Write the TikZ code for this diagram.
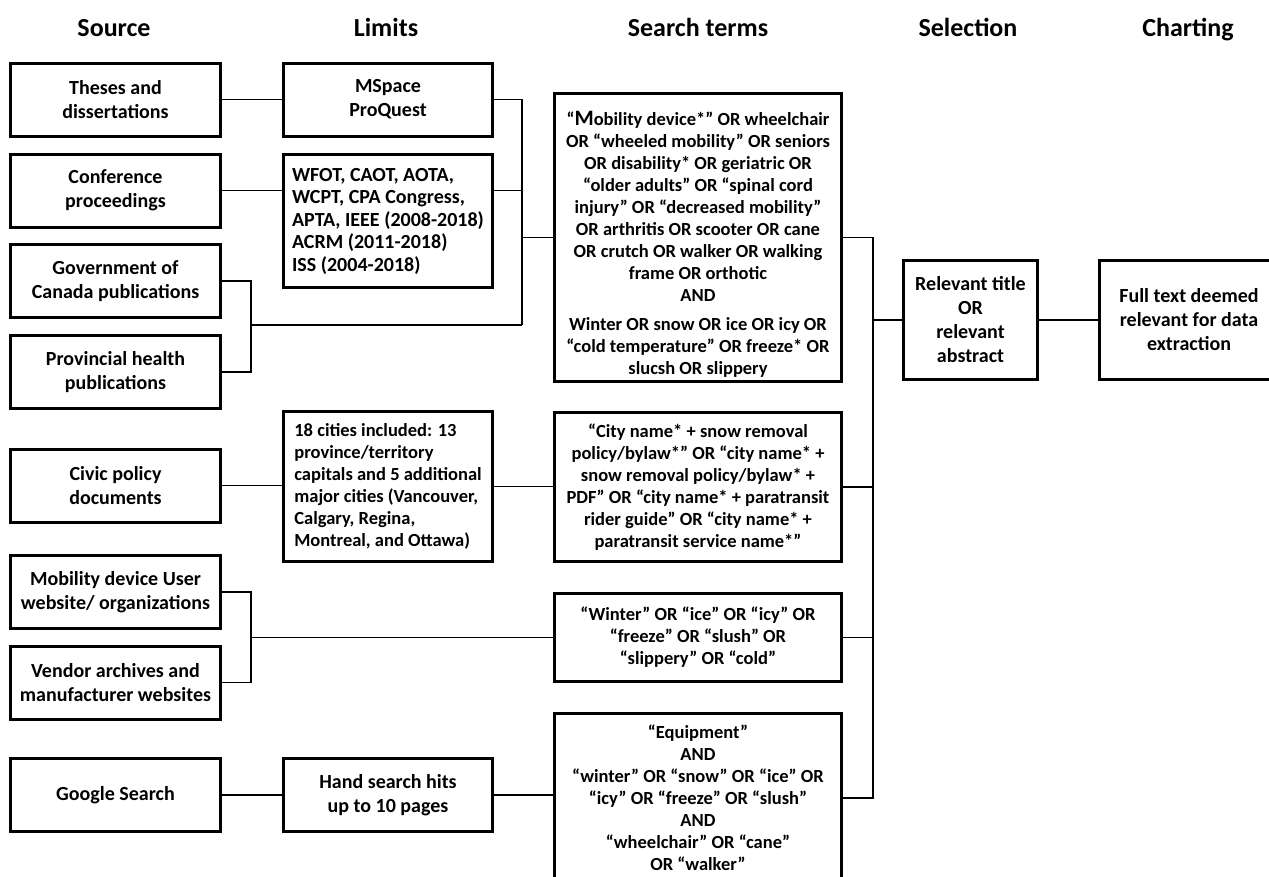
\documentclass[tikz,border=0pt]{standalone}
\usepackage{fontspec}
\setmainfont{Carlito}
\usepackage{tikz}

\begin{document}
\begin{tikzpicture}[x=1pt,y=-1pt,
    box/.style={draw,line width=3pt,inner sep=2pt,align=center,
      font=\fontsize{20}{24}\selectfont\bfseries},
    terms/.style={box,font=\fontsize{18.5}{22}\selectfont\bfseries},
    head/.style={anchor=base,font=\fontsize{26}{30}\selectfont\bfseries},
    link/.style={line width=1.4pt}]
  \useasboundingbox (0,0) rectangle (1269,876);
  \clip (0,0) rectangle (1269,876);
  \foreach \n/\x/\t in {hsrc/114/Source,hlim/386/Limits,hst/698/Search terms,hsel/968/Selection,hch/1188/Charting}
    \node[head] (\n) at (\x,36) {\t};
  \foreach \n/\y/\t in {src1/99.5/{Theses and\\dissertations},src2/190.5/{Conference\\proceedings},
      src3/281/{Government of\\Canada publications},src4/372/{Provincial health\\publications},
      src5/485.5/{Civic policy\\documents},src6/592/{Mobility device User\\website/ organizations},
      src7/682.5/{Vendor archives and\\manufacturer websites},src8/795/{Google Search}}
    \node[box,minimum width=210,minimum height=73] (\n) at (115.5,\y) {\t};
  \node[box,minimum width=209,minimum height=73] (lim1) at (388,99.5) {MSpace\\ProQuest};
  \node[box,minimum width=209,minimum height=133,align=left,font=\fontsize{20}{22.5}\selectfont\bfseries] (lim2) at (388,221)
    {WFOT, CAOT, AOTA,\\WCPT, CPA Congress,\\APTA, IEEE (2008-2018)\\ACRM (2011-2018)\\ISS (2004-2018)};
  \node[terms,minimum width=209,minimum height=150,align=left] (lim3) at (388,486.5)
    {18 cities included: 13\\province/territory\\capitals and 5 additional\\major cities (Vancouver,\\Calgary, Regina,\\Montreal, and Ottawa)};
  \node[box,minimum width=209,minimum height=73] (lim4) at (388,795) {Hand search hits\\up to 10 pages};
  \node[terms,minimum width=287,minimum height=288] (st1) at (698,237.5)
    {\rule{0pt}{28pt}“{\fontsize{22}{22}\selectfont M}obility device*” OR wheelchair\\OR “wheeled mobility” OR seniors\\OR disability* OR geriatric OR\\“older adults” OR “spinal cord\\injury” OR “decreased mobility”\\OR arthritis OR scooter OR cane\\OR crutch OR walker OR walking\\frame OR orthotic\\[0pt]AND\\[7pt]Winter OR snow OR ice OR icy OR\\“cold temperature” OR freeze* OR\\slucsh OR slippery};
  \node[terms,minimum width=287,minimum height=149] (st2) at (698,487)
    {“City name* + snow removal\\policy/bylaw*” OR “city name* +\\snow removal policy/bylaw* +\\PDF” OR “city name* + paratransit\\rider guide” OR “city name* +\\paratransit service name*”};
  \node[terms,minimum width=287,minimum height=88] (st3) at (698,637.5)
    {“Winter” OR “ice” OR “icy” OR\\“freeze” OR “slush” OR\\“slippery” OR “cold”};
  \node[terms,minimum width=287,minimum height=170] (st4) at (698,798)
    {“Equipment”\\AND\\“winter” OR “snow” OR “ice” OR\\“icy” OR “freeze” OR “slush”\\AND\\“wheelchair” OR “cane”\\OR “walker”};
  \node[box,minimum width=134,minimum height=119] (sel) at (970.5,320)
    {Relevant title\\OR\\relevant\\abstract};
  \node[box,minimum width=179,minimum height=119] (chart) at (1189,320)
    {Full text deemed\\relevant for data\\extraction};
  \coordinate (bus) at (522,325);
  \coordinate (govbus) at (251,325);
  \coordinate (webbus) at (251,637.5);
  \coordinate (trunk) at (873,320);
  \draw[link] (src1.east) -- (lim1.west);
  \draw[link] (src2.east) -- (src2.east -| lim2.west);
  \draw[link] (lim1.east) -| (bus);
  \draw[link] (src2.east -| lim2.east) -- (src2.east -| bus);
  \draw[link] (bus |- st1.west) -- (st1.west);
  \draw[link] (src3.east) -| (govbus |- src4.east) -- (src4.east);
  \draw[link] (govbus) -- (bus);
  \draw[link] (src5.east) -- (src5.east -| lim3.west);
  \draw[link] (lim3.east) -- (lim3.east -| st2.west);
  \draw[link] (src6.east) -| (webbus |- src7.east) -- (src7.east);
  \draw[link] (webbus) -- (webbus -| st3.west);
  \draw[link] (src8.east) -- (lim4.west);
  \draw[link] (lim4.east) -- (lim4.east -| st4.west);
  \draw[link] (st1.east) -| (trunk |- st4.east) -- (st4.east);
  \foreach \n in {st2,st3}
    \draw[link] (\n.east) -- (\n.east -| trunk);
  \draw[link] (trunk) -- (sel.west);
  \draw[link] (sel) -- (chart);
\end{tikzpicture}
\end{document}
